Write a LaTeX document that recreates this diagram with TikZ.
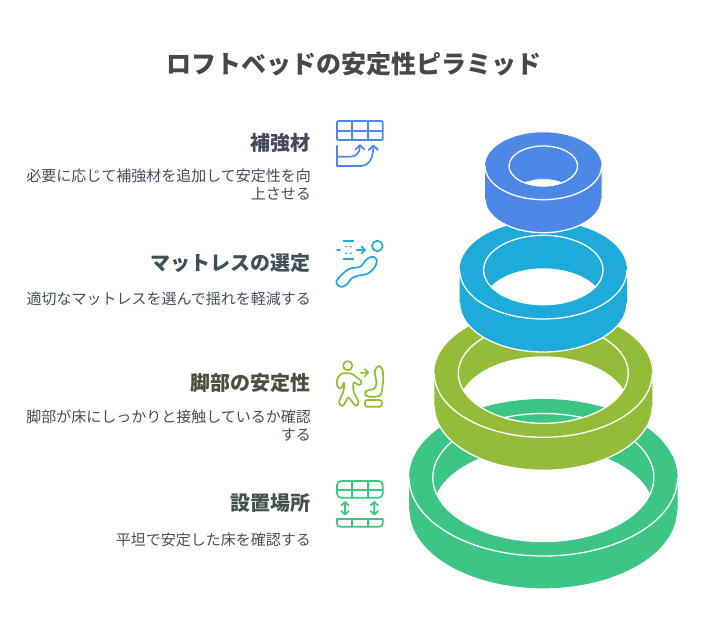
\documentclass[tikz,border=0pt]{standalone}
\usepackage{fontspec}
\setmainfont{Noto Sans CJK JP}
\definecolor{ringblue}{HTML}{4E88E7}
\definecolor{ringcyan}{HTML}{1EABDA}
\definecolor{ringolive}{HTML}{93BD39}
\definecolor{ringgreen}{HTML}{3DC585}
\definecolor{titlegray}{HTML}{484848}
\definecolor{textblue}{HTML}{434C5E}
\definecolor{textcyan}{HTML}{3F4F58}
\definecolor{textolive}{HTML}{4A4F3E}
\definecolor{textgreen}{HTML}{42524C}
\tikzset{
  titletext/.style={font=\fontsize{25}{30}\selectfont\bfseries,text=titlegray},
  headtext/.style={anchor=east,font=\fontsize{20}{24}\selectfont\bfseries,inner sep=0pt},
  desctext/.style={anchor=north east,align=right,font=\fontsize{15}{18}\selectfont,inner sep=0pt},
  iconline/.style={line width=1.7pt,line cap=round,line join=round}
}
\begin{document}
\begin{tikzpicture}[x=1pt,y=1pt]
  \useasboundingbox (0,0) rectangle (703,638);
  % rings, bottom first: y, outer radii, inner radii, colour
  \foreach \cy/\rx/\ry/\ix/\iy/\col in {
      160.5/134.3/78.5/110.5/64/ringgreen,
      264.7/109/64/85/50/ringolive,
      368/83.7/49/59.7/34.7/ringcyan,
      472/58.3/33.7/34.3/20/ringblue} {
    \pgfmathsetmacro{\ang}{asin(33/(2*\iy))}
    \pgfmathsetmacro{\angb}{180-\ang}
    \pgfmathsetmacro{\angc}{180+\ang}
    \pgfmathsetmacro{\angd}{360-\ang}
    \fill[\col,even odd rule] (543.3-\rx,\cy) arc[start angle=180,end angle=0,x radius=\rx,y radius=\ry]
      -- ++(0,-33) arc[start angle=360,end angle=180,x radius=\rx,y radius=\ry] -- cycle
      (543.3,\cy) ++(\angc:\ix pt and \iy pt)
      arc[start angle=\angc,end angle=\angd,x radius=\ix,y radius=\iy]
      arc[start angle=\ang,end angle=\angb,x radius=\ix,y radius=\iy] -- cycle;
    \draw[white,line width=1.3pt] (543.3-\rx,\cy-33) arc[start angle=180,end angle=360,x radius=\rx,y radius=\ry];
    \draw[white,line width=1.3pt] (543.3-\rx,\cy) arc[start angle=180,end angle=360,x radius=\rx,y radius=\ry];
    \draw[white,line width=1.3pt] (543.3,\cy) ellipse[x radius=\ix,y radius=\iy];
  }
  % texts
  \node[titletext] (title) at (354,574) {ロフトベッドの安定性ピラミッド};
  \node[headtext,text=textblue] (head1) at (311,495) {補強材};
  \node[desctext,text=textblue] (desc1) at (311,469.5) {必要に応じて補強材を追加して安定性を向\\上させる};
  \node[headtext,text=textcyan] (head2) at (311,375) {マットレスの選定};
  \node[desctext,text=textcyan] (desc2) at (311,346.5) {適切なマットレスを選んで揺れを軽減する};
  \node[headtext,text=textolive] (head3) at (311,255) {脚部の安定性};
  \node[desctext,text=textolive] (desc3) at (311,228.5) {脚部が床にしっかりと接触しているか確認\\する};
  \node[headtext,text=textgreen] (head4) at (311,135) {設置場所};
  \node[desctext,text=textgreen] (desc4) at (311,105.5) {平坦で安定した床を確認する};
  % table with arrows
  \begin{scope}[iconline,ringblue]
    \draw[rounded corners=1pt] (337,498) rectangle (382.7,517);
    \draw (337,507.3) -- (382.7,507.3);
    \foreach \x in {352.3,367.7} { \draw (\x,498) -- (\x,517); }
    \draw (337,492.3) -- (337,472) -- (360,472) .. controls (368,472) and (373.3,478) .. (373.3,491.5);
    \draw (337,481.3) -- (350,481.3) .. controls (356,481.3) and (360,485) .. (360,492);
    \draw (355.5,488.5) -- (360,493) -- (364.5,488.5) (368.8,488) -- (373.3,492.5) -- (377.8,488);
  \end{scope}
  % mattress and sleeper
  \begin{scope}[iconline,ringcyan]
    \draw (377.3,392) circle (5.3pt);
    \draw (343.5,397) -- (353.3,397) (343.5,378.7) -- (353.3,378.7) (337,388) -- (340,388) (356.7,388) -- (365,388);
    \draw (361.5,391.5) -- (365,388) -- (361.5,384.5);
    \foreach \x in {346,351} { \fill (\x,391.3) circle (1pt) (\x,384.7) circle (1pt); }
    \draw plot[smooth cycle,tension=.6] coordinates {(336.7,357.3) (348.3,368.7) (360,371.3) (366.7,378.7) (372.7,381.3)
      (376.7,378) (375,371.3) (368.3,364.7) (358.3,362.3) (351.7,359.7) (346,353) (340,351.3)};
  \end{scope}
  % person and seat
  \begin{scope}[iconline,ringolive]
    \draw (347.7,272.3) circle (4.6pt);
    \draw[rounded corners=2pt] (340.7,264.7) -- (351.7,264.7) -- (362.3,256.3) -- (360,252.3) -- (353.3,256.3) -- (353.3,246.3)
      -- (359.3,235.3) -- (356,231.3) -- (348.3,241.3) -- (342.7,231.3) -- (338.3,234.7) -- (344,248) -- (344,256.3)
      -- (341,248.7) -- (336.7,251.3) -- (336.7,258) -- cycle;
    \draw (360.7,265.3) -- (368.3,265.3) (364.8,268.8) -- (368.3,265.3) -- (364.8,261.8);
    \draw[rounded corners=3pt] (378.3,273) -- (382.7,269.7) -- (383.3,258) -- (381.7,244.7) -- (379.3,241.3) -- (366.7,241.3)
      -- (364.3,244.7) -- (366.7,248) -- (375,248.7) -- (376.7,254.7) -- (374.3,267.3) -- cycle;
    \draw[rounded corners=2pt] (365,231.3) rectangle (381.7,238);
  \end{scope}
  % floor table with arrows
  \begin{scope}[iconline,ringgreen]
    \draw[rounded corners=4pt] (337,140.3) -- (337,157) -- (382.7,157) -- (382.7,140.3) -- cycle;
    \draw (337,148) -- (382.7,148);
    \foreach \x in {352.3,367.7} { \draw (\x,157) -- (\x,140.3) (\x,119) -- (\x,111.3); }
    \draw[rounded corners=3pt] (337,119) -- (337,111.3) -- (382.7,111.3) -- (382.7,119);
    \draw (337,119) -- (382.7,119);
    \foreach \x in {345,374.3} {
      \draw (\x,123.5) -- (\x,136) (\x-3.8,132.5) -- (\x,136) -- (\x+3.8,132.5) (\x-3.8,127) -- (\x,123.5) -- (\x+3.8,127);
    }
  \end{scope}
\end{tikzpicture}
\end{document}
